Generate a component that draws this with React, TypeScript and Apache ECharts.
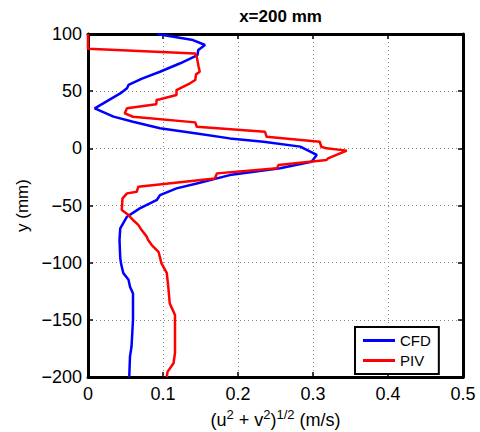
import React, { useEffect, useRef } from 'react';
import * as echarts from 'echarts';

// CFD profile: velocity magnitude (m/s) vs y (mm)
const cfdX = [0.092, 0.140, 0.156, 0.147, 0.146, 0.123, 0.096, 0.072, 0.054, 0.052, 0.043, 0.009, 0.034, 0.060, 0.096, 0.145, 0.189, 0.234, 0.283, 0.305, 0.298, 0.256, 0.189, 0.145, 0.118, 0.096, 0.092, 0.069, 0.052, 0.043, 0.042, 0.043, 0.044, 0.047, 0.054, 0.056, 0.060, 0.060, 0.058, 0.056, 0.055];
const cfdY = [100, 94.7, 90.4, 86, 81.6, 74.4, 67, 61, 55.4, 52.5, 48, 35, 27.7, 23.3, 17.5, 13, 8.7, 5.8, 1.5, -5.8, -11.7, -17.5, -23.4, -30.7, -35, -40.9, -45, -52.5, -59.8, -70, -80, -96, -100.6, -109, -115, -121, -127, -150, -173.6, -182, -200];

// PIV profile
const pivX = [0, 0, 0.143, 0.145, 0.1475, 0.149, 0.144, 0.143, 0.136, 0.118, 0.118, 0.096, 0.0915, 0.091, 0.052, 0.049, 0.060, 0.143, 0.145, 0.236, 0.238, 0.309, 0.311, 0.318, 0.345, 0.320, 0.318, 0.254, 0.252, 0.172, 0.169, 0.067, 0.065, 0.052, 0.046, 0.045, 0.054, 0.060, 0.067, 0.0715, 0.078, 0.080, 0.085, 0.094, 0.098, 0.105, 0.107, 0.109, 0.116, 0.116, 0.114, 0.106, 0.105];
const pivY = [100, 87, 83, 80, 71.4, 67, 64.7, 59.8, 56.9, 51, 46.6, 43, 42.3, 38.5, 35, 30.6, 27.6, 22.7, 18.9, 14.5, 10.2, 5.8, 1.4, 0, -2, -8.8, -10.2, -14.6, -17.5, -21.9, -26.3, -33.6, -38, -39.4, -43.8, -54, -58.4, -62.7, -67, -71.5, -77, -80, -84.6, -90.5, -100.6, -109, -121, -135.6, -145.8, -179, -188, -195.5, -200];

const xMin = 0, xMax = 0.5, xStep = 0.1;
const yMin = -200, yMax = 100, yStep = 50;

const seriesNames = ['CFD', 'PIV'];
const seriesColors = ['#0000ff', '#ff0000'];

export default function App() {
  const ref = useRef<HTMLDivElement>(null);
  useEffect(() => {
    const chart = echarts.init(ref.current!, null, { renderer: 'svg' });
    const font = '"Liberation Sans", Arial, Helvetica, sans-serif';
    const axisLine = { show: true, onZero: false, lineStyle: { color: '#000', width: 3 } };
    const axisTick = { show: true, inside: true, length: 5, lineStyle: { color: '#000', width: 1.5 } };
    const gridLine = { show: true, lineStyle: { color: '#888', type: [1, 3], width: 1 } };
    chart.setOption({
      animation: false,
      backgroundColor: '#ffffff',
      textStyle: { fontFamily: font },
      title: {
        text: 'x=200 mm',
        left: 275.5,
        textAlign: 'center',
        top: 3,
        textStyle: { fontSize: 17, fontWeight: 'bold', color: '#000', fontFamily: font },
      },
      grid: { left: 88, right: 17, top: 34, bottom: 55, containLabel: false, outerBoundsMode: 'none' },
      legend: {
        data: seriesNames.map((n) => ({ name: n, icon: 'rect' })),
        orient: 'vertical',
        left: 355,
        top: 327,
        itemWidth: 32,
        itemHeight: 3,
        itemGap: 5,
        padding: [6, 8, 6, 8],
        borderColor: '#000',
        borderWidth: 2,
        backgroundColor: '#fff',
        textStyle: { fontSize: 15, color: '#000', fontFamily: font },
      },
      xAxis: [
        {
          type: 'value', min: xMin, max: xMax, interval: xStep, position: 'bottom',
          axisLine, axisTick,
          axisLabel: {
            color: '#000', fontSize: 18, margin: 8, fontFamily: font,
            formatter: (v: number) => (v === 0 ? '0' : String(+v.toFixed(1))),
          },
          splitLine: gridLine,
          name: '(u{sup|2} + v{sup|2}){sup|1/2} (m/s)',
          nameLocation: 'middle',
          nameGap: 28,
          nameTextStyle: {
            fontSize: 18, color: '#000', fontFamily: font, lineHeight: 24,
            rich: { sup: { fontSize: 13, color: '#000', fontFamily: font, verticalAlign: 'top', lineHeight: 12 } },
          },
        },
        {
          type: 'value', min: xMin, max: xMax, interval: xStep, position: 'top',
          axisLine, axisTick, axisLabel: { show: false }, splitLine: { show: false },
        },
      ],
      yAxis: [
        {
          type: 'value', min: yMin, max: yMax, interval: yStep, position: 'left',
          axisLine, axisTick,
          axisLabel: {
            color: '#000', fontSize: 18, margin: 6, fontFamily: font, padding: [6, 0, 0, 0],
            formatter: (v: number) => (v < 0 ? '\u2212' + Math.abs(v) : String(v)),
          },
          splitLine: gridLine,
          name: 'y (mm)',
          nameLocation: 'middle',
          nameGap: 56,
          nameTextStyle: { fontSize: 17, color: '#000', fontFamily: font },
        },
        {
          type: 'value', min: yMin, max: yMax, interval: yStep, position: 'right',
          axisLine, axisTick, axisLabel: { show: false }, splitLine: { show: false },
        },
      ],
      series: [
        {
          name: seriesNames[0], type: 'line', showSymbol: false, symbol: 'none',
          data: cfdX.map((x, i) => [x, cfdY[i]]),
          lineStyle: { color: seriesColors[0], width: 2.5 },
          itemStyle: { color: seriesColors[0] },
        },
        {
          name: seriesNames[1], type: 'line', showSymbol: false, symbol: 'none',
          data: pivX.map((x, i) => [x, pivY[i]]),
          lineStyle: { color: seriesColors[1], width: 2.5 },
          itemStyle: { color: seriesColors[1] },
        },
      ],
    });
    return () => chart.dispose();
  }, []);
  return (
    <div
      ref={ref}
      style={{ position: 'fixed', left: 0, top: 0, width: 480, height: 432, background: '#fff' }}
    />
  );
}
